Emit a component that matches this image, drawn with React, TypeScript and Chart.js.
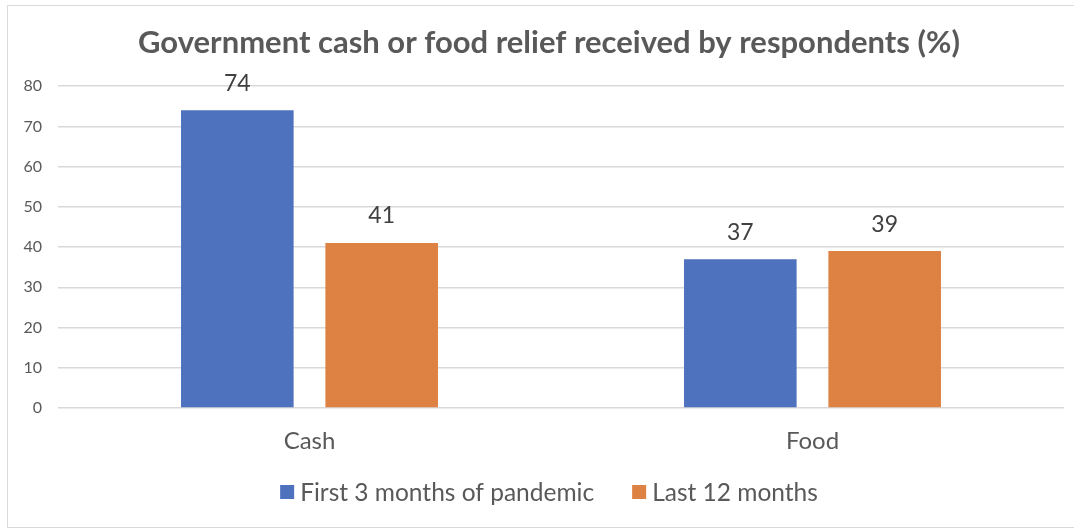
import React, { useEffect, useRef } from "react";
import { Chart, registerables } from "chart.js";

Chart.register(...registerables);

const categories = ["Cash", "Food"];
const firstThreeMonths = [74, 37];
const lastTwelveMonths = [41, 39];
const seriesLabels = ["First 3 months of pandemic", "Last 12 months"];
const seriesColors = ["#4E72BE", "#DE8244"];
const yTicks = [0, 10, 20, 30, 40, 50, 60, 70, 80];
const titleText = "Government cash or food relief received by respondents (%)";

const FONT = "Lato, 'Open Sans', sans-serif";

const dataLabelPlugin = {
  id: "dataLabels",
  afterDatasetsDraw(chart: any) {
    const ctx = chart.ctx;
    ctx.save();
    ctx.font = `23px ${FONT}`;
    ctx.fillStyle = "#404040";
    ctx.textAlign = "center";
    ctx.textBaseline = "middle";
    chart.data.datasets.forEach((ds: any, i: number) => {
      const meta = chart.getDatasetMeta(i);
      meta.data.forEach((bar: any, j: number) => {
        ctx.fillText(String(ds.data[j]), bar.x, bar.y - 27);
      });
    });
    ctx.restore();
  },
};

// Bottom legend drawn with Excel-like spacing (small box-to-text gap, wide item gap)
const bottomLegendPlugin = {
  id: "bottomLegend",
  afterDraw(chart: any) {
    const ctx = chart.ctx;
    const box = 14;
    const boxGap = 6;
    const itemGap = 38;
    const cy = 486;
    ctx.save();
    ctx.font = `24.5px ${FONT}`;
    ctx.textBaseline = "middle";
    ctx.textAlign = "left";
    const items = chart.data.datasets.map((ds: any) => ({
      text: ds.label,
      color: ds.backgroundColor,
      w: ctx.measureText(ds.label).width,
    }));
    const total =
      items.reduce((s: number, it: any) => s + box + boxGap + it.w, 0) +
      itemGap * (items.length - 1);
    let x = 541 - total / 2;
    items.forEach((it: any) => {
      ctx.fillStyle = it.color;
      ctx.fillRect(x, cy - box / 2, box, box);
      x += box + boxGap;
      ctx.fillStyle = "#595959";
      ctx.fillText(it.text, x, cy + 1);
      x += it.w + itemGap;
    });
    ctx.restore();
  },
};

export default function App() {
  const ref = useRef<HTMLCanvasElement>(null);
  useEffect(() => {
    if (!ref.current) return;
    const chart = new Chart(ref.current, {
      type: "bar",
      data: {
        labels: categories,
        datasets: [
          {
            label: seriesLabels[0],
            data: firstThreeMonths,
            backgroundColor: seriesColors[0],
            categoryPercentage: 0.574,
            barPercentage: 0.78,
          },
          {
            label: seriesLabels[1],
            data: lastTwelveMonths,
            backgroundColor: seriesColors[1],
            categoryPercentage: 0.574,
            barPercentage: 0.78,
          },
        ],
      },
      options: {
        animation: false,
        responsive: false,
        maintainAspectRatio: false,
        layout: { padding: { left: 14, right: 0, top: 0, bottom: 59 } },
        plugins: {
          title: {
            display: true,
            text: titleText,
            color: "#595959",
            font: { family: FONT, size: 31, weight: "bold", lineHeight: 1.2 },
            padding: { top: 18, bottom: 25 },
          },
          legend: { display: false },
          tooltip: { enabled: false },
        },
        scales: {
          x: {
            grid: { display: false },
            border: { display: false },
            ticks: {
              color: "#595959",
              font: { family: FONT, size: 24 },
              padding: 11,
            },
            afterFit(scale: any) {
              scale.height = 60;
            },
          },
          y: {
            min: 0,
            max: 80,
            afterBuildTicks(scale: any) {
              scale.ticks = yTicks.map((v) => ({ value: v }));
            },
            grid: { color: "#D9D9D9", drawTicks: false, lineWidth: 1.5 },
            border: { display: false },
            ticks: {
              color: "#595959",
              font: { family: FONT, size: 16 },
              padding: 16,
            },
            afterFit(scale: any) {
              scale.width = 36;
            },
          },
          y2: {
            position: "right",
            display: true,
            grid: { display: false },
            border: { display: false },
            ticks: { display: false },
            afterFit(scale: any) {
              scale.width = 12;
            },
          },
        },
      },
      plugins: [dataLabelPlugin, bottomLegendPlugin],
    } as any);
    return () => chart.destroy();
  }, []);

  return (
    <div
      style={{
        position: "absolute",
        left: 7,
        top: 5,
        width: 1070,
        height: 523,
        border: "1px solid #D9D9D9",
        boxSizing: "border-box",
        background: "#fff",
      }}
    >
      <canvas ref={ref} width={1068} height={521} style={{ display: "block" }} />
    </div>
  );
}
